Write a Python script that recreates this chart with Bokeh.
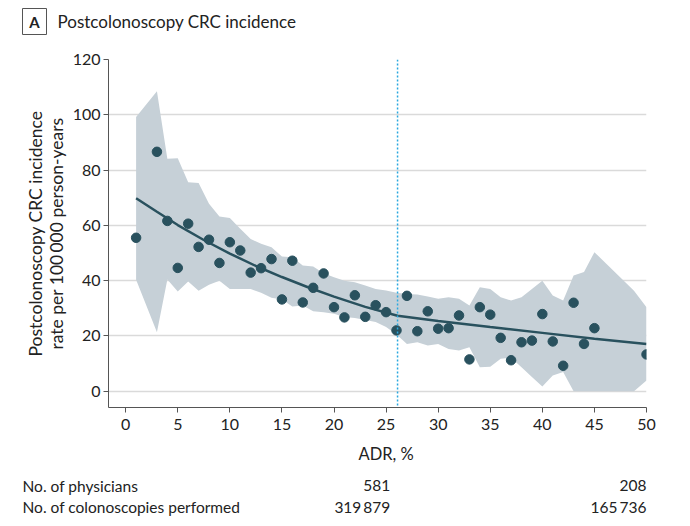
from bokeh.plotting import figure
from bokeh.models import Range1d, Span, FixedTicker
from bokeh.layouts import column
from bokeh.core.properties import value
from bokeh.embed import file_html
from bokeh.resources import INLINE

# ---- data ----
adr = [1, 3, 4, 5, 6, 7, 8, 9, 10, 11, 12, 13, 14, 15, 16, 17, 18, 19, 20,
       21, 22, 23, 24, 25, 26, 27, 28, 29, 30, 31, 32, 33, 34, 35, 36, 37,
       38, 39, 40, 41, 42, 43, 44, 45, 50]
incidence = [55.5, 86.6, 61.6, 44.6, 60.6, 52.2, 54.8, 46.4, 53.9, 50.9, 42.9,
             44.5, 47.8, 33.2, 47.2, 32.1, 37.4, 42.6, 30.4, 26.7, 34.7, 26.9,
             31.1, 28.6, 22.0, 34.5, 21.7, 28.9, 22.6, 22.8, 27.4, 11.5, 30.4,
             27.7, 19.3, 11.2, 17.7, 18.3, 27.9, 18.0, 9.2, 32.0, 17.1, 22.8,
             13.3]

band_x = [1, 3, 4, 5, 6, 7, 8, 9, 10, 11, 12, 13, 14, 15, 16, 17, 18, 19, 20,
          21, 22, 23, 24, 25, 26, 27, 28, 29, 30, 31, 32, 33, 34, 35, 36, 37,
          38, 39, 40, 41, 42, 43, 44, 45, 48.8, 50]
band_upper = [99.2, 108.5, 84.1, 84.3, 75.6, 75.3, 67.8, 63.2, 62.7, 58.8,
              55.1, 53.3, 52.1, 48.7, 48.5, 45.5, 45.1, 42.7, 41.2, 40.0, 39.4,
              38.2, 37.0, 36.4, 35.6, 35.2, 35.0, 34.3, 33.4, 34.0, 33.4, 31.0,
              37.6, 37.0, 34.0, 32.8, 34.0, 37.0, 40.0, 34.6, 32.8, 41.9, 43.1,
              50.3, 36.3, 30.4]
band_lower = [40.3, 21.3, 40.4, 36.1, 39.7, 36.3, 38.5, 40.0, 37.0, 37.0,
              37.0, 35.6, 33.8, 33.2, 30.6, 31.0, 28.9, 28.6, 28.0, 26.8, 26.5,
              25.8, 25.0, 23.2, 20.5, 17.1, 17.7, 16.5, 17.1, 15.3, 14.7, 15.9,
              8.7, 8.8, 11.7, 12.1, 8.7, 5.1, 1.7, 5.7, 6.9, 0.0, 0.0, 0.0,
              0.0, 3.9]

fit_x = [1, 3, 5, 7.5, 10, 12.5, 15, 17.5, 20, 23, 26.1, 30, 35, 40, 45, 50]
fit_y = [69.8, 64.9, 60.1, 54.7, 49.8, 45.3, 41.3, 37.6, 34.2, 30.5, 27.3,
         25.4, 23.2, 21.1, 19.0, 17.1]

threshold = 26.1
x_ticks = [0, 5, 10, 15, 20, 25, 30, 35, 40, 45, 50]
y_ticks = [0, 20, 40, 60, 80, 100, 120]

panel_letter = "A"
panel_title = "Postcolonoscopy CRC incidence"
x_label = "ADR, %"
y_label = "Postcolonoscopy CRC incidence\nrate per 100\u2009000 person-years"
table_rows = ["No. of physicians", "No. of colonoscopies performed"]
table_low = ["581", "319\u2009879"]
table_high = ["208", "165\u2009736"]

FONT = "Lato"
DARK = "#29515e"
BAND = "#c6d0d7"
TEXT = "#222222"

W = 690
TOP_H = 45
MAIN_H = 398
BOT_H = 526 - TOP_H - MAIN_H
BL, BR = 108, 44
X0, X1 = -1.65, 50.0
scale = (W - BL - BR) / (X1 - X0)

# ---------------- header (panel letter + title) ----------------
top = figure(width=W, height=TOP_H, output_backend="svg", toolbar_location=None,
             x_range=Range1d(0, W), y_range=Range1d(TOP_H, 0),
             min_border=0, outline_line_color=None, frame_align=False)
top.axis.visible = False
top.grid.visible = False
top.rect(x=[34], y=[21], width=24, height=26, fill_color=None,
         line_color="#555555", line_width=1)
top.text(x=[34], y=[21], text=[panel_letter], text_align="center",
         text_baseline="middle", text_font=value(FONT), text_font_style="bold",
         text_font_size="15px", text_color=TEXT)
top.text(x=[57], y=[21], text=[panel_title], text_align="left",
         text_baseline="middle", text_font=value(FONT), text_font_size="17px",
         text_color=TEXT)

# ---------------- main chart ----------------
p = figure(width=W, height=MAIN_H, output_backend="svg", toolbar_location=None,
           x_range=Range1d(X0, X1), y_range=Range1d(-5.9, 120),
           min_border_left=BL, min_border_right=BR, min_border_top=59 - TOP_H,
           min_border_bottom=MAIN_H - (59 - TOP_H) - 348, frame_align=False)
p.outline_line_color = None

p.xgrid.visible = False
p.ygrid.grid_line_color = "#dadada"
p.ygrid.grid_line_width = 1.5

p.xaxis.ticker = FixedTicker(ticks=x_ticks)
p.yaxis.ticker = FixedTicker(ticks=y_ticks)
for ax in (p.xaxis, p.yaxis):
    ax.axis_line_color = "#555555"
    ax.axis_line_width = 1
    ax.major_tick_line_color = "#555555"
    ax.major_tick_out = 5
    ax.major_tick_in = 0
    ax.minor_tick_line_color = None
    ax.major_label_text_font = FONT
    ax.major_label_text_font_size = "16px"
    ax.major_label_text_color = TEXT
p.xaxis.major_label_standoff = 6
p.yaxis.major_label_standoff = 3

p.yaxis.axis_label = y_label
p.yaxis.axis_label_text_font = FONT
p.yaxis.axis_label_text_font_size = "17.5px"
p.yaxis.axis_label_text_font_style = "normal"
p.yaxis.axis_label_text_color = TEXT
p.yaxis.axis_label_text_line_height = 1.0
p.yaxis.axis_label_standoff = 3

p.varea(x=band_x, y1=band_lower, y2=band_upper, fill_color=BAND, fill_alpha=1)
p.line(fit_x, fit_y, line_color=DARK, line_width=2.5)
p.scatter(adr, incidence, size=9.5, fill_color=DARK, line_color=DARK)

p.add_layout(Span(location=threshold, dimension="height", line_color="#29a8df",
                  line_dash="2 2", line_width=1.5))

# ---------------- axis title + table (shares the x scale) ----------------
y_top = TOP_H + MAIN_H
bot = figure(width=W, height=BOT_H, output_backend="svg", toolbar_location=None,
             x_range=Range1d(X0 - BL / scale, X1 + BR / scale),
             y_range=Range1d(526, y_top), min_border=0, outline_line_color=None,
             frame_align=False)
bot.axis.visible = False
bot.grid.visible = False
bot.text(x=[25], y=[453], text=[x_label], text_align="center",
         text_baseline="middle", text_font=value(FONT), text_font_size="16.5px",
         text_color=TEXT)
row_y = [485, 506]
name_x = X0 - (BL - 22) / scale
bot.text(x=[name_x] * 2, y=row_y, text=table_rows, text_align="left",
         text_baseline="middle", text_font=value(FONT), text_font_size="15.5px",
         text_color=TEXT)
bot.text(x=[25.4] * 2, y=row_y, text=table_low, text_align="right",
         text_baseline="middle", text_font=value(FONT), text_font_size="15.5px",
         text_color=TEXT)
bot.text(x=[50] * 2, y=row_y, text=table_high, text_align="right",
         text_baseline="middle", text_font=value(FONT), text_font_size="15.5px",
         text_color=TEXT)

layout = column(top, p, bot, spacing=0)
open("out.html", "w").write(file_html(layout, INLINE))
